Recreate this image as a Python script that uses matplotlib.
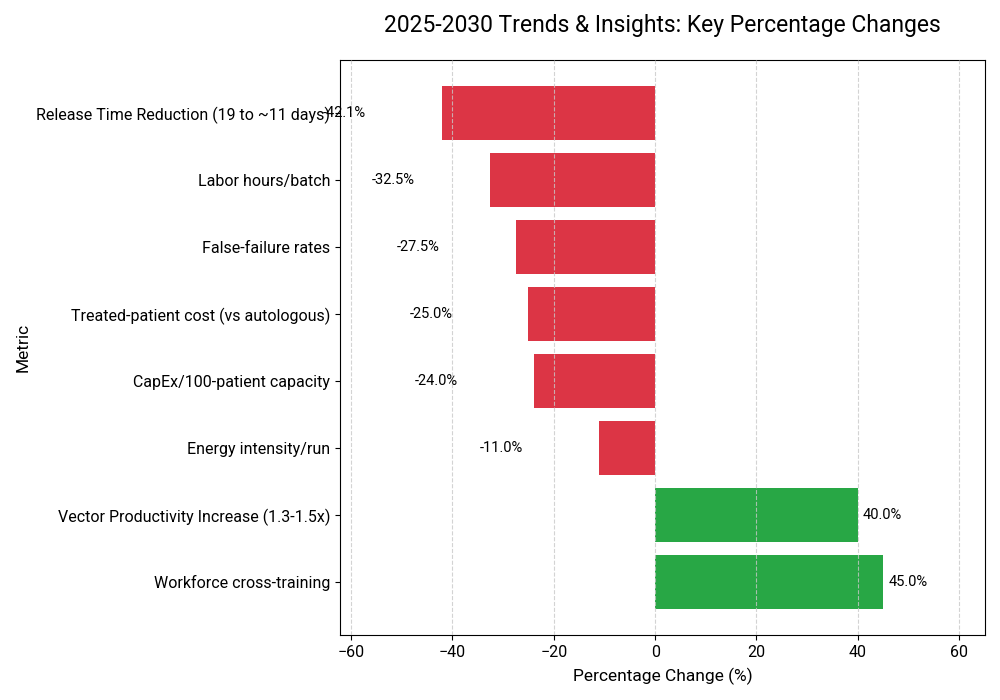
import matplotlib.pyplot as plt

plt.rcParams['font.family'] = ['Roboto', 'DejaVu Sans']

metrics = [
    'Release Time Reduction (19 to ~11 days)',
    'Labor hours/batch',
    'False-failure rates',
    'Treated-patient cost (vs autologous)',
    'CapEx/100-patient capacity',
    'Energy intensity/run',
    'Vector Productivity Increase (1.3-1.5x)',
    'Workforce cross-training',
]
changes = [-42.1, -32.5, -27.5, -25.0, -24.0, -11.0, 40.0, 45.0]

colors = ['#dc3545' if v < 0 else '#28a745' for v in changes]

fig, ax = plt.subplots(figsize=(10, 7), dpi=100)
bars = ax.barh(metrics, changes, color=colors, height=0.8)
ax.invert_yaxis()

for bar, v in zip(bars, changes):
    y = bar.get_y() + bar.get_height() / 2
    if v < 0:
        ax.text(v - 15, y, f'{v:.1f}%', va='center', ha='right', fontsize=10.5)
    else:
        ax.text(v + 1, y, f'{v:.1f}%', va='center', ha='left', fontsize=10.5)

ax.set_xlim(-62.2, 65.1)
ax.set_xlabel('Percentage Change (%)', fontsize=12.5, labelpad=6)
ax.set_ylabel('Metric', fontsize=12.5)
ax.set_title('2025-2030 Trends & Insights: Key Percentage Changes', fontsize=16.5, pad=20)
ax.tick_params(axis='both', labelsize=11.5)
ax.grid(axis='x', linestyle='--', color='#c8c8c8', alpha=0.8)
ax.set_axisbelow(False)

plt.subplots_adjust(left=0.34, right=0.985, top=0.914, bottom=0.093)
plt.savefig('out.png')
